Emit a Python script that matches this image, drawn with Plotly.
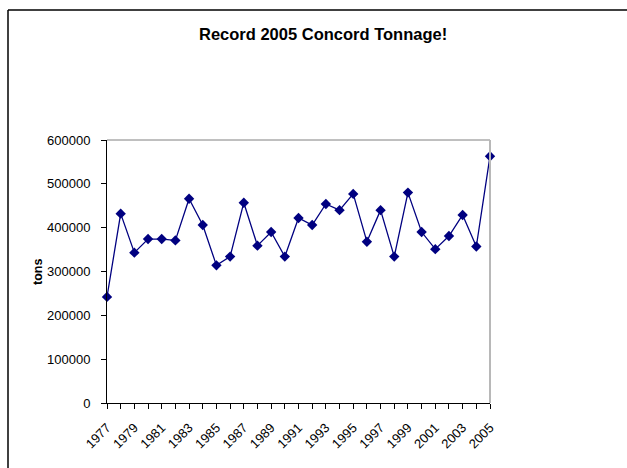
import plotly.graph_objects as go

# Concord grape tonnage by year
years = list(range(1977, 2006))
tons = [242000, 432000, 343000, 374000, 374000, 371000, 466000, 406000,
        314000, 334000, 457000, 359000, 390000, 334000, 422000, 406000,
        454000, 440000, 477000, 368000, 440000, 334000, 480000, 390000,
        351000, 381000, 429000, 357000, 563000]
tick_text = [str(y) if (y - 1977) % 2 == 0 else "" for y in years]
y_ticks = [0, 100000, 200000, 300000, 400000, 500000, 600000]

FONT = "Liberation Sans, Arial, sans-serif"
W, H = 627, 468
L, R, T, B = 107, 490, 140, 403  # plot area in pixels


def px_x(x):
    return (x - L) / (R - L)


def px_y(y):
    return (B - y) / (B - T)


fig = go.Figure()
fig.add_trace(go.Scatter(
    x=years, y=tons, mode="lines+markers",
    line=dict(color="#000080", width=1.3),
    marker=dict(symbol="diamond", size=8, color="#000080"),
    cliponaxis=False,
))

fig.update_layout(
    width=W, height=H,
    margin=dict(l=L, r=W - R, t=T, b=H - B, pad=0),
    paper_bgcolor="white", plot_bgcolor="white",
    showlegend=False,
    font=dict(family=FONT, size=13, color="black"),
    xaxis=dict(
        range=[1977, 2005], tickmode="array", tickvals=years, ticktext=tick_text,
        tickangle=-45, ticks="outside", ticklen=5, tickcolor="black",
        ticklabelstandoff=6,
        showline=True, linecolor="black", linewidth=1,
        showgrid=False, zeroline=False,
    ),
    yaxis=dict(
        range=[0, 600000], tickmode="array", tickvals=y_ticks,
        tickformat="d", ticks="outside", ticklen=5, tickcolor="black",
        ticklabelstandoff=8,
        showline=True, linecolor="black", linewidth=1,
        showgrid=False, zeroline=False,
    ),
    shapes=[
        # plot-area top and right borders
        dict(type="line", xref="paper", yref="paper", x0=0, x1=1, y0=1, y1=1,
             line=dict(color="#808080", width=1)),
        dict(type="line", xref="paper", yref="paper", x0=1, x1=1, y0=0, y1=1,
             line=dict(color="#b8b8b8", width=2)),
        # chart frame
        dict(type="line", xref="paper", yref="paper",
             x0=px_x(8), x1=px_x(8), y0=px_y(10), y1=px_y(480),
             line=dict(color="black", width=1.5)),
        dict(type="line", xref="paper", yref="paper",
             x0=px_x(8), x1=px_x(640), y0=px_y(10), y1=px_y(10),
             line=dict(color="black", width=1.5)),
    ],
    annotations=[
        dict(text="<b>Record 2005 Concord Tonnage!</b>", xref="paper", yref="paper",
             x=px_x(323), y=px_y(34), xanchor="center", yanchor="middle",
             showarrow=False,
             font=dict(family=FONT, size=16.5, color="black")),
        dict(text="<b>tons</b>", xref="paper", yref="paper",
             x=px_x(38), y=px_y(272), xanchor="center", yanchor="middle",
             showarrow=False, textangle=-90,
             font=dict(family=FONT, size=12.5, color="black")),
    ],
)

fig.write_html("out.html")
